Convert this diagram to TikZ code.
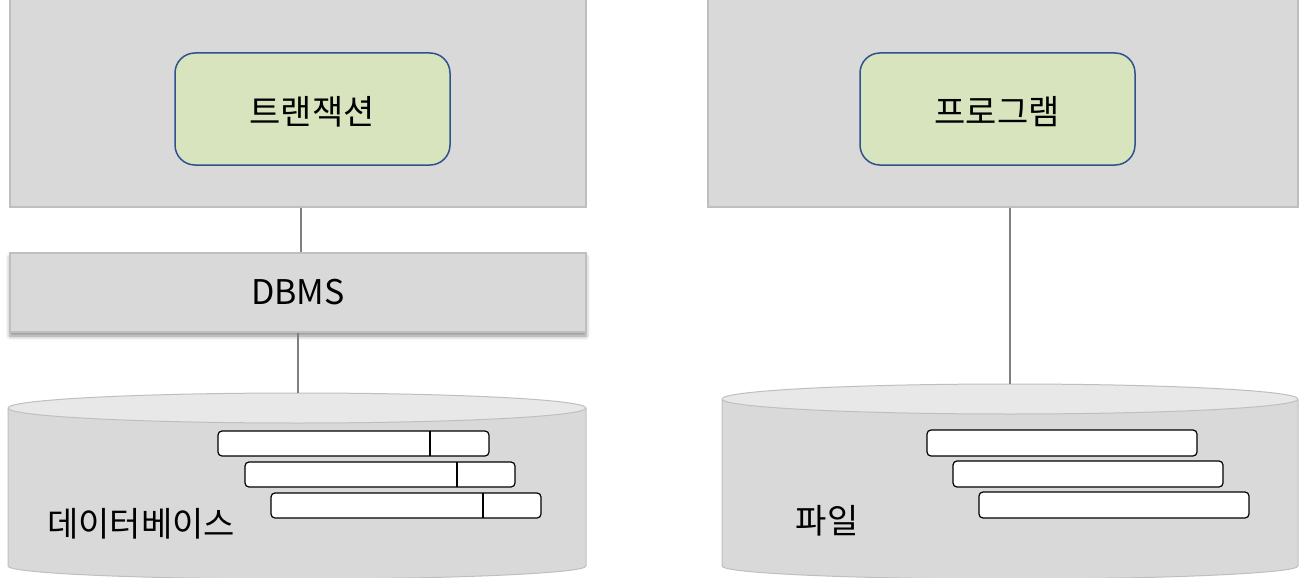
\documentclass[tikz,border=0pt]{standalone}
\usepackage{fontspec}
\setmainfont{Noto Sans CJK KR}
\usetikzlibrary{shadows.blur}
\definecolor{boxgray}{HTML}{D9D9D9}
\definecolor{boxline}{HTML}{BFBFBF}
\definecolor{topgray}{HTML}{E8E8E8}
\definecolor{greenfill}{HTML}{D7E4BD}
\definecolor{blueline}{HTML}{2F528F}
\definecolor{connline}{HTML}{808080}
\tikzset{
  graybox/.style={draw=boxline, fill=boxgray, line width=1.2pt, inner sep=0pt},
  greenbox/.style={draw=blueline, fill=greenfill, line width=1.5pt, rounded corners=20pt, inner sep=0pt, minimum width=275pt, minimum height=112pt},
  conn/.style={draw=connline, line width=1.5pt},
  rec/.style={draw=black, fill=white, line width=1.2pt, rounded corners=4pt},
  lbl/.style={font=\fontsize{34}{38}\selectfont, inner sep=0pt}
}
\begin{document}
\begin{tikzpicture}[x=1pt,y=-1pt]
\useasboundingbox (0,0) rectangle (1301,578);
% top boxes
\node[graybox, minimum width=576pt, minimum height=209pt] (app1) at (298,102.5) {};
\node[graybox, minimum width=590pt, minimum height=209pt] (app2) at (1003,102.5) {};
\node[greenbox] (tx) at (312.5,109) {};
\node[lbl] at (312,112) {트랜잭션};
\node[greenbox] (prog) at (997.5,109) {};
\node[lbl] at (997,112) {프로그램};
% DBMS
\node[graybox, minimum width=576pt, minimum height=79pt, blur shadow={shadow xshift=0pt, shadow yshift=-4pt, shadow blur radius=4pt, shadow opacity=45}] (dbms) at (298,292.5) {};
\node[lbl] at (298,292) {DBMS};
% left cylinder
\fill[boxgray] (8,408) rectangle (586,566);
\fill[boxgray] (297,566) ellipse [x radius=289pt, y radius=13pt];
\draw[boxline, line width=1pt] (8,408) -- (8,566) arc[start angle=180, end angle=360, x radius=289pt, y radius=13pt] -- (586,408);
\filldraw[fill=topgray, draw=boxline, line width=1pt] (297,408) ellipse [x radius=289pt, y radius=15pt];
\coordinate (dbtop) at (298,393);
% right cylinder
\fill[boxgray] (722,400) rectangle (1298,566);
\fill[boxgray] (1010,566) ellipse [x radius=288pt, y radius=13pt];
\draw[boxline, line width=1pt] (722,400) -- (722,566) arc[start angle=180, end angle=360, x radius=288pt, y radius=13pt] -- (1298,400);
\filldraw[fill=topgray, draw=boxline, line width=1pt] (1010,399) ellipse [x radius=288pt, y radius=15pt];
\coordinate (ftop) at (1010,384);
% connectors
\draw[conn] ([xshift=3pt]app1.south) -- ([xshift=3pt]dbms.north);
\draw[conn] (dbms.south) -- (dbtop);
\draw[conn] (app2.south -| ftop) -- (ftop);
% records left
\draw[rec] (218,431) rectangle (489,456); \draw[line width=1.2pt] (430,431) -- (430,456);
\draw[rec] (245,462) rectangle (515,487); \draw[line width=1.2pt] (457,462) -- (457,487);
\draw[rec] (271,493) rectangle (541,518); \draw[line width=1.2pt] (483,493) -- (483,518);
% records right
\draw[rec] (927,430) rectangle (1197,456);
\draw[rec] (953,461) rectangle (1223,487);
\draw[rec] (979,492) rectangle (1249,518);
% labels
\node[lbl] (dblbl) at (141,524) {데이터베이스};
\node[lbl] (flbl) at (827,521) {파일};
\end{tikzpicture}
\end{document}
